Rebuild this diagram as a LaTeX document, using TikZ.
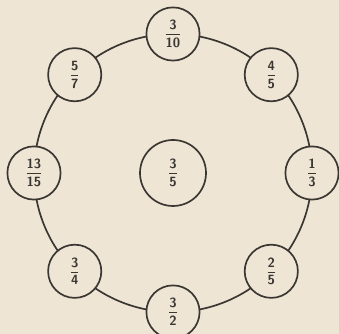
\documentclass[tikz,border=0pt]{standalone}
\usepackage{amsmath}
\usepackage{tikz}
\usetikzlibrary{positioning,calc}
\usepackage{xcolor}

\definecolor{paper}{RGB}{238,229,212}
\definecolor{ink}{RGB}{58,54,50}

\newcommand{\frc}[2]{$\genfrac{}{}{0.7pt}{0}{\text{\sffamily\bfseries #1}}{\text{\sffamily\bfseries #2}}$}

\begin{document}
\begin{tikzpicture}[
    num/.style={circle, draw=ink, line width=1.2pt, fill=paper, minimum size=1.33cm, inner sep=0pt, text=ink, font=\sffamily\fontsize{9.5}{11}\selectfont},
    hub/.style={num, minimum size=1.65cm},
    ring/.style={draw=ink, line width=1.2pt}
]

\fill[paper] (-4.325,-4.025) rectangle (4.15,4.325);
\useasboundingbox (-4.325,-4.025) rectangle (4.15,4.325);

\node[hub] (mid) at (0,0) {\frc{3}{5}};

% big ring behind the fractions
\draw[ring] (mid.center) circle (3.475);

\foreach \i/\ang/\a/\b in {1/90/3/10, 2/45/4/5, 3/0/1/3, 4/-45/2/5, 5/-90/3/2, 6/-135/3/4, 7/180/13/15, 8/135/5/7}
    \node[num] (f\i) at (\ang:3.475) {\frc{\a}{\b}};

\end{tikzpicture}
\end{document}
